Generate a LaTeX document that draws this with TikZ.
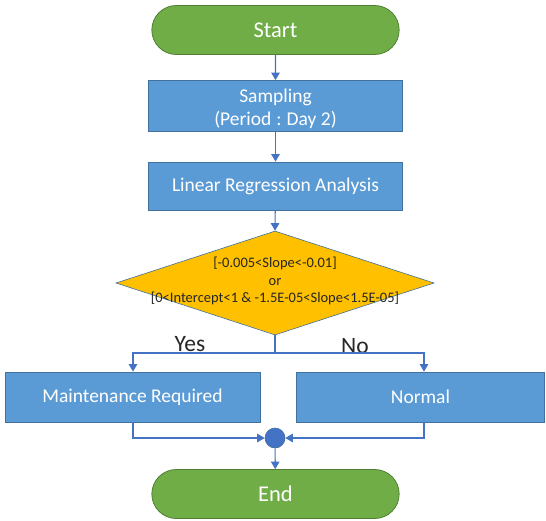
\documentclass[tikz,border=0pt]{standalone}
\usepackage{fontspec}
\setmainfont{Carlito}
\usetikzlibrary{shapes.geometric,shapes.misc,arrows.meta}
\definecolor{boxblue}{HTML}{5B9BD5}
\definecolor{boxedge}{HTML}{41719C}
\definecolor{termgreen}{HTML}{70AD47}
\definecolor{termedge}{HTML}{507E32}
\definecolor{decorange}{HTML}{FFC000}
\definecolor{linkblue}{HTML}{4472C4}
\tikzset{
  term/.style={rounded rectangle, fill=termgreen, draw=termedge, line width=0.8pt,
    minimum width=254pt, minimum height=49pt, text=white, font=\fontsize{22.5}{26}\selectfont},
  procbox/.style={rectangle, fill=boxblue, draw=boxedge, line width=0.8pt,
    minimum height=50pt, text=white, align=center, font=\fontsize{19.5}{23}\selectfont},
  decbox/.style={diamond, fill=decorange, draw=boxedge, line width=0.6pt,
    minimum width=318pt, minimum height=104pt, inner sep=0pt},
  dectext/.style={align=center, text=black!85, font=\fontsize{14.5}{17.5}\selectfont},
  branchlabel/.style={text=black!85, font=\fontsize{23.5}{26}\selectfont},
  link/.style={draw=linkblue, line width=1.1pt, -{Triangle[width=8.5pt,length=7.5pt]}},
  plainlink/.style={draw=linkblue, line width=1.1pt},
  joint/.style={circle, fill=linkblue, draw=boxedge, line width=0.6pt, minimum size=20pt, inner sep=0pt}
}
\begin{document}
\begin{tikzpicture}[x=1pt,y=-1pt]
\useasboundingbox (0,0) rectangle (546,520);
\node[term] (start) at (275.5,30) {Start};
\node[procbox, minimum width=254pt, minimum height=51pt, inner sep=0pt] (samp) at (275.5,106) {};
\node[text=white, align=center, font=\fontsize{19.5}{23}\selectfont] (sampt) at (275.5,109) {Sampling\\(Period\hspace{5pt}:\hspace{5pt}Day 2)};
\node[procbox, minimum width=254pt, minimum height=48pt] (lin) at (275.5,186) {Linear Regression Analysis};
\node[decbox] (dec) at (275,283) {};
\node[dectext] (dect) at (275,281) {[-0.005<Slope<-0.01]\\or\\{}[0<Intercept<1 \& -1.5E-05<Slope<1.5E-05]};
\node[procbox, minimum width=255pt] (maint) at (132.5,397) {Maintenance Required};
\node[procbox, minimum width=248pt] (norm) at (420.5,397) {Normal};
\node[joint] (join) at (275,438) {};
\node[term] (end) at (275.5,494) {End};
\node[branchlabel] (yes) at (190,344) {Yes};
\node[branchlabel] (no) at (355,346) {No};
\coordinate (split) at (275,353);
\coordinate (splitL) at (133,353);
\coordinate (splitR) at (424,353);
\coordinate (mL) at (133,438);
\coordinate (mR) at (424,438);

\draw[link] (start) -- (samp);
\draw[link] (samp) -- (lin);
\draw[link] (lin) -- (dec.north);
\draw[plainlink] (dec.south) -- (split);
\draw[link] (split) -- (splitL) -- (splitL |- maint.north);
\draw[link] (split) -- (splitR) -- (splitR |- norm.north);
\draw[link] (mL |- maint.south) -- (mL) -- (join);
\draw[link] (mR |- norm.south) -- (mR) -- (join);
\draw[link] (join) -- (end);
\end{tikzpicture}
\end{document}
